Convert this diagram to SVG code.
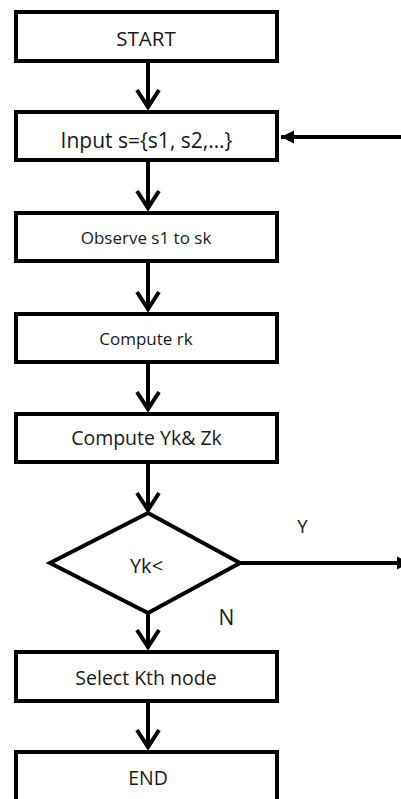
<svg xmlns="http://www.w3.org/2000/svg" width="401" height="799" viewBox="0 0 401 799">
  <style>
    .box { fill: #ffffff; stroke: #000000; stroke-width: 4; }
    .lbl { font-family: "Open Sans", "Liberation Sans", sans-serif; fill: #1a1a1a; text-anchor: middle; }
    .edge { fill: none; stroke: #000000; stroke-width: 4; }
  </style>
  <defs>
    <!-- open chevron head for the vertical flow -->
    <marker id="chev" markerUnits="userSpaceOnUse" viewBox="-22 -15 30 30" refX="0" refY="0" markerWidth="30" markerHeight="30" orient="auto">
      <path d="M -17 -11 L 0 0 L -17 11" fill="none" stroke="#000" stroke-width="4"/>
    </marker>
    <!-- solid triangular head for the side lines -->
    <marker id="tri" markerUnits="userSpaceOnUse" viewBox="-15 -8 16 16" refX="0" refY="0" markerWidth="16" markerHeight="16" orient="auto">
      <path d="M -13 -6.5 L 0 0 L -13 6.5 Z" fill="#000"/>
    </marker>
  </defs>

  <rect width="401" height="799" fill="#ffffff"/>

  <g id="connectors">
    <line class="edge" x1="148" y1="63" x2="148" y2="107" marker-end="url(#chev)"/>
    <line class="edge" x1="148" y1="162" x2="148" y2="208" marker-end="url(#chev)"/>
    <line class="edge" x1="148" y1="263" x2="148" y2="309" marker-end="url(#chev)"/>
    <line class="edge" x1="148" y1="364" x2="148" y2="409" marker-end="url(#chev)"/>
    <line class="edge" x1="148" y1="464" x2="148" y2="510" marker-end="url(#chev)"/>
    <line class="edge" x1="148" y1="613" x2="148" y2="647" marker-end="url(#chev)"/>
    <line class="edge" x1="148" y1="703" x2="148" y2="747" marker-end="url(#chev)"/>
    <!-- loop back into the input step -->
    <line class="edge" x1="410" y1="137" x2="281" y2="137" marker-end="url(#tri)"/>
    <!-- "Y" branch leaving the decision -->
    <line class="edge" x1="240" y1="563" x2="410" y2="563" marker-end="url(#tri)"/>
  </g>

  <g id="start">
    <rect class="box" x="16" y="12" width="261" height="49"/>
    <text class="lbl" x="146" y="46" font-size="20.5">START</text>
  </g>

  <g id="input">
    <rect class="box" x="16" y="112" width="261" height="48"/>
    <text class="lbl" x="146.5" y="148" font-size="21">Input s={s1, s2,…}</text>
  </g>

  <g id="observe">
    <rect class="box" x="16" y="213" width="261" height="48"/>
    <text class="lbl" x="146" y="244" font-size="17">Observe s1 to sk</text>
  </g>

  <g id="compute-rk">
    <rect class="box" x="16" y="314" width="261" height="48"/>
    <text class="lbl" x="146" y="345" font-size="17">Compute rk</text>
  </g>

  <g id="compute-yz">
    <rect class="box" x="16" y="414" width="261" height="48"/>
    <text class="lbl" x="146.5" y="445" font-size="19.5">Compute Yk&amp; Zk</text>
  </g>

  <g id="decision">
    <polygon class="box" points="148,513 240,563 148,613 50,563"/>
    <text class="lbl" x="146.5" y="573" font-size="20">Yk&lt;</text>
  </g>

  <g id="branch-labels">
    <text class="lbl" x="302.5" y="533" font-size="18.5">Y</text>
    <text class="lbl" x="226.5" y="625" font-size="21">N</text>
  </g>

  <g id="select">
    <rect class="box" x="16" y="652" width="261" height="49"/>
    <text class="lbl" x="146" y="685" font-size="19.5">Select Kth node</text>
  </g>

  <g id="end">
    <rect class="box" x="16" y="752" width="261" height="52"/>
    <text class="lbl" x="148" y="785" font-size="19.5">END</text>
  </g>
</svg>
